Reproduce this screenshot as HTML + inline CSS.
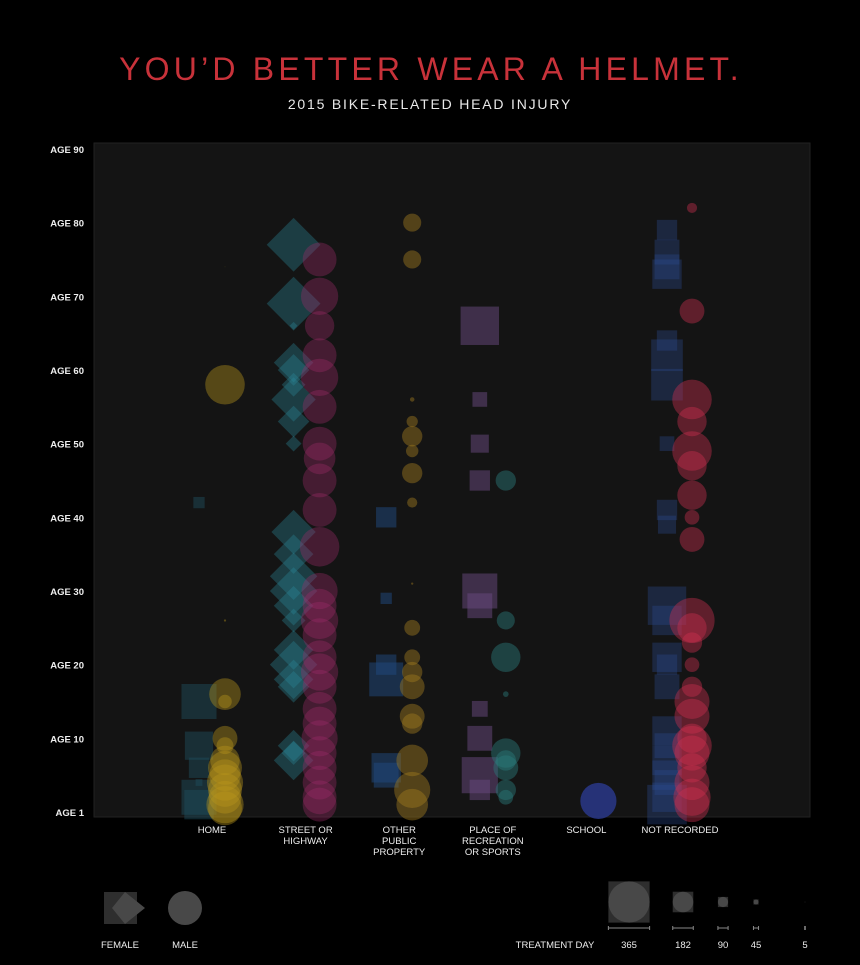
<!DOCTYPE html>
<html><head><meta charset="utf-8"><style>
body{margin:0;background:#000;width:860px;height:960px;overflow:hidden;font-family:"Liberation Sans",sans-serif}
</style></head><body>
<svg id="c" width="860" height="960" xmlns="http://www.w3.org/2000/svg">
<rect width="860" height="960" fill="#000"/>
<text x="431" y="80" text-anchor="middle" fill="#c8323a" font-size="32" letter-spacing="4.2" font-family="Liberation Sans">YOU’D BETTER WEAR A HELMET.</text>
<text x="430" y="109" text-anchor="middle" fill="#e8e8e8" font-size="14" letter-spacing="1.8">2015 BIKE-RELATED HEAD INJURY</text>
<rect x="94" y="143" width="716" height="674" fill="#141414" stroke="#222" stroke-width="1"/>
<g id="yax"></g><g id="xax"></g><g id="marks"></g><g id="legend"></g>
</svg>
<script>
const ageTicks=[1,10,20,30,40,50,60,70,80,90];
const categories=["HOME","STREET OR|HIGHWAY","OTHER|PUBLIC|PROPERTY","PLACE OF|RECREATION|OR SPORTS","SCHOOL","NOT RECORDED"];
// [age, treatment days]
const homeFemale=[[42,100],[15,310],[9,250],[6,180],[2,310],[4,60],[1,260]];
const homeMale=[[74,5],[58,350],[26,20],[16,280],[15,120],[10,220],[9,150],[7,260],[6,300],[5,280],[4,320],[3,300],[2,290],[1,330],[0.5,300]];
const streetFemale=[[77,340],[69,340],[66,50],[61,250],[60,200],[58,150],[56,280],[53,200],[50,100],[38,280],[35,250],[32,300],[30,300],[28,250],[26,150],[22,250],[20,300],[18,250],[17,200],[9,200],[8,150],[7,250]];
const streetMale=[[75,300],[70,330],[66,260],[62,300],[59,330],[55,300],[50,300],[48,280],[45,300],[41,300],[36,350],[30,320],[28,300],[26,330],[24,300],[21,300],[19,330],[17,300],[14,300],[12,300],[10,320],[8,300],[6,300],[4,300],[2,300],[1,300]];
const otherFemale=[[40,180],[29,100],[20,180],[18,300],[6,260],[5,220]];
const otherMale=[[80,160],[75,160],[56,40],[53,100],[51,180],[49,110],[46,180],[42,90],[31,20],[25,140],[21,140],[19,180],[17,220],[13,220],[12,180],[7,280],[3,320],[1,280]];
const recFemale=[[66,340],[56,130],[50,160],[45,180],[30,310],[28,220],[14,140],[10,220],[5,320],[3,180]];
const recMale=[[45,180],[26,160],[21,260],[16,50],[8,260],[7,180],[6,220],[3,180],[2,130]];
const schoolMale=[[1.5,320]];
const nrFemale=[[79,180],[76,220],[74,220],[73,260],[64,180],[62,280],[58,280],[50,130],[41,180],[39,160],[28,340],[26,260],[21,260],[20,180],[17,220],[11,260],[9,220],[7,260],[5,260],[4,220],[2,260],[1,350]];
const nrMale=[[82,90],[68,220],[56,350],[53,260],[49,350],[47,260],[43,260],[40,130],[37,220],[26,400],[25,260],[23,180],[20,130],[17,180],[15,310],[13,310],[10,260],[9,350],[8,310],[6,260],[4,310],[2,330],[1,310]];
const legendDays=[365,182,90,45,5];

const NS="http://www.w3.org/2000/svg";
function el(t,a,p){const e=document.createElementNS(NS,t);for(const k in a)e.setAttribute(k,a[k]);p.appendChild(e);return e;}
function yScale(a){return 812-a*7.367;}
function xCat(i){return 212+i*93.6;}
function dSize(d){return d*0.113;}
const yax=document.getElementById('yax'),xax=document.getElementById('xax'),marks=document.getElementById('marks'),leg=document.getElementById('legend');
ageTicks.forEach(a=>{const t=el('text',{x:84,y:(a===1?yScale(0):yScale(a))+4,'text-anchor':'end',fill:'#eee','font-size':9.5,'font-weight':'bold'},yax);
t.textContent='AGE '+a;});
categories.forEach((c,i)=>{const t=el('text',{x:xCat(i),y:833,'text-anchor':'middle',fill:'#eee','font-size':9.5},xax);

c.split('|').forEach((l,j)=>{const s=el('tspan',{x:xCat(i),dy:j?11:0},t);s.textContent=l;});});
function draw(data,ci,off,shape,color,op,name){
 data.forEach(p=>{const cx=xCat(ci)+off,cy=yScale(p[0]),s=dSize(p[1]);let e;
  if(shape==='c')e=el('circle',{cx:cx,cy:cy,r:s/2,fill:color,'fill-opacity':op},marks);
  else if(shape==='s')e=el('rect',{x:cx-s/2,y:cy-s/2,width:s,height:s,fill:color,'fill-opacity':op},marks);
  else e=el('polygon',{points:`${cx},${cy-s*0.7} ${cx+s*0.7},${cy} ${cx},${cy+s*0.7} ${cx-s*0.7},${cy}`,fill:color,'fill-opacity':op},marks);
  });
}
draw(homeFemale,0,-13,'s','#1f5060',0.45,'home-female-mark');
draw(homeMale,0,13,'c','#b8961c',0.4,'home-male-mark');
draw(streetFemale,1,-12,'d','#2a8a9a',0.35,'street-female-mark');
draw(streetMale,1,14,'c','#a02a6a',0.35,'street-male-mark');
draw(otherFemale,2,-13,'s','#1f4a80',0.5,'other-female-mark');
draw(otherMale,2,13,'c','#a07a20',0.45,'other-male-mark');
draw(recFemale,3,-13,'s','#6a4a80',0.5,'rec-female-mark');
draw(recMale,3,13,'c','#2a7a7a',0.45,'rec-male-mark');
draw(schoolMale,4,12,'c','#2a3a90',0.8,'school-male-mark');
draw(nrFemale,5,-13,'s','#2a4a90',0.35,'nr-female-mark');
draw(nrMale,5,12,'c','#d03050',0.4,'nr-male-mark');
// legend
let r=el('rect',{x:104,y:892,width:33,height:32,fill:'#2e2e2e'},leg);
r=el('polygon',{points:'125,892 145,908 125,924 112,908',fill:'#484848'},leg);
r=el('circle',{cx:185,cy:908,r:17,fill:'#484848'},leg);
[['FEMALE',120],['MALE',185],['TREATMENT DAY',555]].forEach(q=>{const t=el('text',{x:q[1],y:948,'text-anchor':'middle',fill:'#eee','font-size':9.5},leg);t.textContent=q[0];});
const lx=[629,683,723,756,805];
legendDays.forEach((d,i)=>{const s=dSize(d),cx=lx[i];
 let b=el('rect',{x:cx-s/2,y:902-s/2,width:s,height:s,fill:'#2e2e2e'},leg);
 let c=el('circle',{cx:cx,cy:902,r:s/2,fill:'#484848'},leg);
 let l=el('path',{d:`M${cx-s/2},928H${cx+s/2}M${cx-s/2},926V930M${cx+s/2},926V930`,stroke:'#888','stroke-width':1},leg);
 let t=el('text',{x:cx,y:948,'text-anchor':'middle',fill:'#eee','font-size':9.5},leg);t.textContent=d;});
</script>
</body></html>
